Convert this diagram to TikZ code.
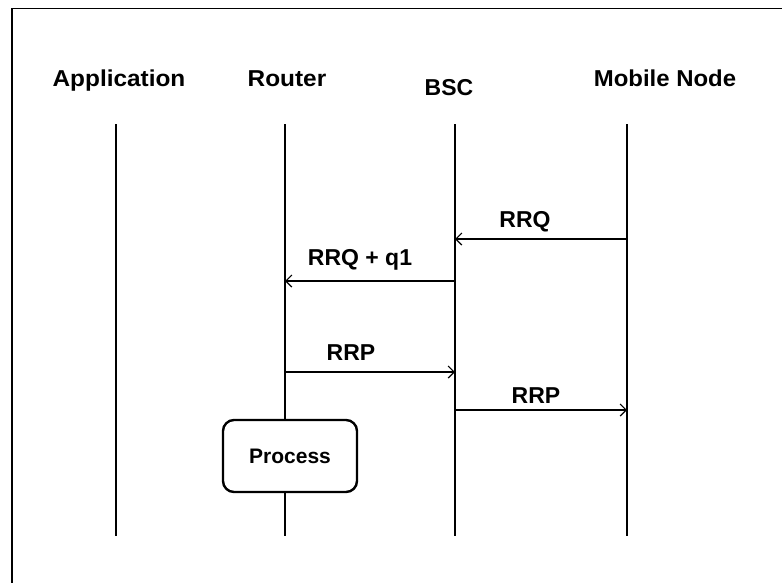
\documentclass[tikz,border=0pt]{standalone}
\usepackage{fontspec}
\setmainfont{Liberation Sans}
\usetikzlibrary{arrows.meta}
\begin{document}
\begin{tikzpicture}[x=1pt,y=-1pt,
  header/.style={font=\fontsize{23}{25}\selectfont\bfseries, inner sep=0pt, anchor=base},
  msglabel/.style={font=\fontsize{23}{25}\selectfont\bfseries, inner sep=0pt, anchor=base},
  lifeline/.style={line width=2.4pt},
  msg/.style={line width=2pt, -{Straight Barb[length=6pt,width=12pt,line width=1.2pt]}},
  procbox/.style={draw, line width=2.4pt, rounded corners=11pt, fill=white,
    minimum width=134pt, minimum height=72pt, inner sep=0pt,
    font=\fontsize{21}{23}\selectfont\bfseries}]
  \useasboundingbox (0,0) rectangle (782,582);
  \fill[white] (0,0) rectangle (782,582);
  % outer frame (only the top and left edges fall inside the page)
  \draw[line width=1.5pt] (12,600) -- (12,8.5) -- (800,8.5);

  % participant headers
  \node[header, xscale=1.06] (happ) at (119,86) {Application};
  \node[header, xscale=1.06] (hrou) at (287,86) {Router};
  \node[header] (hbsc) at (449,95) {BSC};
  \node[header, xscale=1.04] (hmob) at (665,86) {Mobile Node};

  % lifeline ends
  \coordinate (appT) at (116,124);  \coordinate (appB) at (116,536);
  \coordinate (rouT) at (285,124);  \coordinate (rouB) at (285,536);
  \coordinate (bscT) at (455,124);  \coordinate (bscB) at (455,536);
  \coordinate (mobT) at (627,124);  \coordinate (mobB) at (627,536);

  \draw[lifeline] (appT) -- (appB);
  \draw[lifeline] (rouT) -- (rouB);
  \draw[lifeline] (bscT) -- (bscB);
  \draw[lifeline] (mobT) -- (mobB);

  % message anchor points on the lifelines
  \coordinate (m1s) at (627,239); \coordinate (m1e) at (455,239);
  \coordinate (m2s) at (455,281); \coordinate (m2e) at (285,281);
  \coordinate (m3s) at (285,372); \coordinate (m3e) at (455,372);
  \coordinate (m4s) at (455,410); \coordinate (m4e) at (627,410);

  \draw[msg] (m1s) -- (m1e);
  \draw[msg] (m2s) -- (m2e);
  \draw[msg] (m3s) -- (m3e);
  \draw[msg] (m4s) -- (m4e);

  \node[msglabel] (l1) at (525,227) {RRQ};
  \node[msglabel] (l2) at (360,265) {RRQ + q1};
  \node[msglabel] (l3) at (351,360) {RRP};
  \node[msglabel] (l4) at (536,403) {RRP};

  % processing step on the router
  \node[procbox] (proc) at (290,456) {Process};
\end{tikzpicture}
\end{document}
